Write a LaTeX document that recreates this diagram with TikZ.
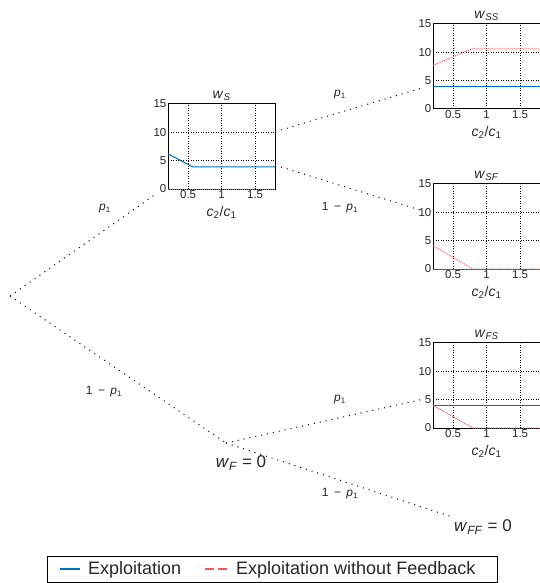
\documentclass[tikz,border=0pt]{standalone}
\usepackage{fontspec}
\setmainfont{Liberation Sans}
\definecolor{expblue}{rgb}{0,0.447,0.741}
\definecolor{nofbred}{rgb}{0.97,0.33,0.33}
\colorlet{labgrey}{black!85}
\tikzset{
    branch/.style={line width=1pt, dash pattern=on 1pt off 5pt},
    axbox/.style={line width=1pt},
    griddot/.style={line width=0.6pt, dash pattern=on 1pt off 1.5pt},
    expl/.style={expblue, line width=1pt},
    nofb/.style={nofbred, line width=1pt, dash pattern=on 1pt off 1pt},
    ticklab/.style={font=\fontsize{11.5}{13}\selectfont, inner sep=1.5pt, text=labgrey},
    plottitle/.style={font=\fontsize{14}{16}\selectfont, text=labgrey},
    problab/.style={font=\fontsize{12}{14}\selectfont, text=labgrey},
    leaflab/.style={font=\fontsize{17}{19}\selectfont, text=labgrey},
    legtext/.style={font=\fontsize{18}{20}\selectfont, text=labgrey, inner sep=0pt, anchor=west},
}
\newcommand{\wsub}[1]{\textit{w}\textsubscript{\textit{#1}}}
\newcommand{\pone}{\textit{p}\textsubscript{1}}
\newcommand{\omp}{1\hspace{0.45em}\textminus\hspace{0.45em}\pone}
% one small axes: grid, box, ticks, title
\newcommand{\smallplot}[1]{%
    \foreach \gx in {0.5,1,1.5} \draw[griddot] (\gx,0) -- (\gx,15);
    \foreach \gy in {5,10} \draw[griddot] (0.2,\gy) -- (1.8,\gy);
    \draw[axbox] (0.2,0) rectangle (1.8,15);
    \foreach \gy in {0,5,10,15} \node[ticklab, left] at (0.2,\gy) {\gy};
    \foreach \gx in {0.5,1,1.5} \node[ticklab, below] at (\gx,0) {\gx};
    \node[plottitle, above] at (1,15) {\wsub{#1}};
    \node[plottitle] at (1,-4.1) {\textit{c}\textsubscript{2}/\textit{c}\textsubscript{1}};
}

\begin{document}
\begin{tikzpicture}[x=1pt, y=-1pt]
    \useasboundingbox (0,0) rectangle (540,583);

    % plots
    \begin{scope}[shift={(154.6,189)}, x=67pt, y=5.667pt]
        \smallplot{S}
        \draw[expl] (0.2,6.2) -- (0.57,3.9) -- (1.8,3.9);
        \draw[nofb] (0.2,0) -- (1.8,0);
    \end{scope}
    \begin{scope}[shift={(419.6,109)}, x=67pt, y=5.667pt]
        \smallplot{SS}
        \draw[expl] (0.2,3.9) -- (1.8,3.9);
        \draw[nofb] (0.2,7.7) -- (0.78,10.6) -- (1.8,10.6);
    \end{scope}
    \begin{scope}[shift={(419.6,269)}, x=67pt, y=5.667pt]
        \smallplot{SF}
        \draw[expl] (0.2,0) -- (1.8,0);
        \draw[nofb] (0.2,4.1) -- (0.8,0) -- (1.8,0);
    \end{scope}
    \begin{scope}[shift={(419.6,428)}, x=67pt, y=5.667pt]
        \smallplot{FS}
        \draw[expl] (0.2,3.9) -- (1.8,3.9);
        \draw[nofb] (0.2,4.0) -- (0.8,0) -- (1.8,0);
    \end{scope}

    % tree
    \coordinate (root) at (10,296);
    \coordinate (S-in) at (156,194);
    \coordinate (S-up) at (281,130);
    \coordinate (S-dn) at (281,167);
    \coordinate (SS-in) at (422,88);
    \coordinate (SF-in) at (420,210);
    \coordinate (F) at (226,443);
    \coordinate (FS-in) at (424,399);
    \node[leaflab] (wF) at (241,463) {\wsub{F} = 0};
    \node[leaflab] (FF) at (483,527) {\wsub{FF} = 0};

    \draw[branch] (root) -- (S-in);
    \draw[branch] (root) -- (F);
    \draw[branch] (S-up) -- (SS-in);
    \draw[branch] (S-dn) -- (SF-in);
    \draw[branch] (F) -- (FS-in);
    \draw[branch] (F) -- (FF);

    \node[problab] (pS) at (105,209) {\pone};
    \node[problab] (qF) at (104,392) {\omp};
    \node[problab] (pSS) at (340,95) {\pone};
    \node[problab] (qSF) at (340,208) {\omp};
    \node[problab] (pFS) at (340,400) {\pone};
    \node[problab] (qFF) at (340,494) {\omp};

    % legend
    \draw[line width=0.8pt] (47,556) rectangle (497,582);
    \draw[expl, line width=1.3pt] (60,569) -- (80,569);
    \node[legtext] (lexp) at (88,569.5) {Exploitation};
    \draw[nofb, line width=1.3pt, dash pattern=on 9pt off 4pt] (205,569) -- (228,569);
    \node[legtext] (lnofb) at (236,569.5) {Exploitation without Feedback};
\end{tikzpicture}
\end{document}
